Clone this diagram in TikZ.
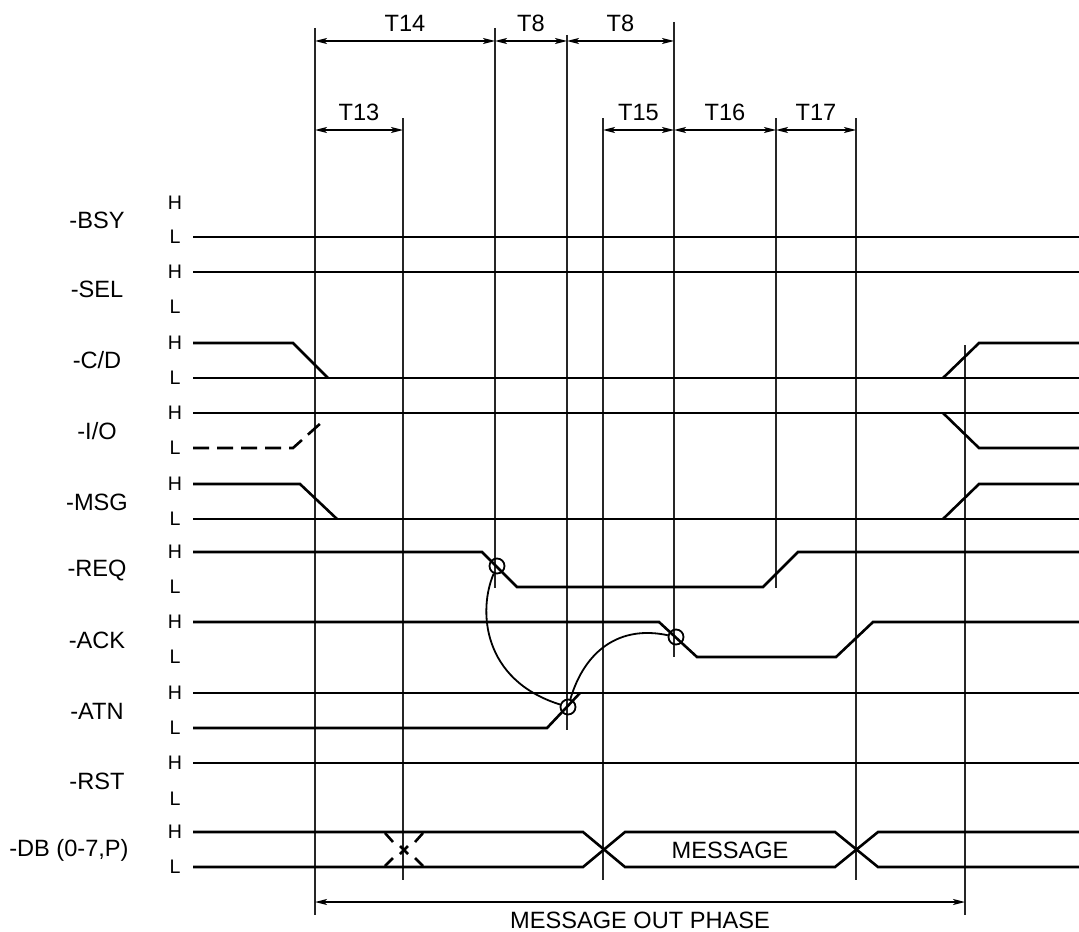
\documentclass[tikz,border=0pt]{standalone}
\usepackage{fontspec}
\setmainfont{Liberation Sans}
\usetikzlibrary{arrows.meta}
\tikzset{
  sig/.style={line width=1.3pt, black},
  guide/.style={line width=0.6pt, black!85},
  dim/.style={line width=0.7pt, >={Stealth[length=6pt,width=3pt,inset=1.5pt]}, <->},
  lvl/.style={font=\fontsize{9.8}{11}\selectfont, inner sep=0pt},
  sname/.style={font=\fontsize{11.8}{13}\selectfont, inner sep=0pt},
  tlab/.style={font=\fontsize{11.8}{13}\selectfont, inner sep=0pt},
  hs/.style={circle, draw, line width=0.9pt, minimum size=7.5pt, inner sep=0pt},
  hsarc/.style={line width=0.9pt},
}

\begin{document}
\begin{tikzpicture}[x=0.5pt, y=-0.5pt]
  \useasboundingbox (0,0) rectangle (1079,931);

  % signal names and levels
  \node[sname] (nbsy) at (97,220) {-BSY};
  \node[sname] (nsel) at (97,289) {-SEL};
  \node[sname] (ncd)  at (97,360) {-C/D};
  \node[sname] (nio)  at (97,431) {-I/O};
  \node[sname] (nmsg) at (97,502) {-MSG};
  \node[sname] (nreq) at (97,570) {-REQ};
  \node[sname] (nack) at (97,640) {-ACK};
  \node[sname] (natn) at (97,711) {-ATN};
  \node[sname] (nrst) at (97,781) {-RST};
  \node[sname, anchor=east] (ndb) at (129,850) {-DB (0-7,P)};
  \node[lvl] (h1) at (175,203) {H}; \node[lvl] (l1) at (175,237) {L};
  \node[lvl] (h2) at (175,272) {H}; \node[lvl] (l2) at (175,307) {L};
  \node[lvl] (h3) at (175,343) {H}; \node[lvl] (l3) at (175,378) {L};
  \node[lvl] (h4) at (175,413) {H}; \node[lvl] (l4) at (175,448) {L};
  \node[lvl] (h5) at (175,484) {H}; \node[lvl] (l5) at (175,519) {L};
  \node[lvl] (h6) at (175,552) {H}; \node[lvl] (l6) at (175,587) {L};
  \node[lvl] (h7) at (175,622) {H}; \node[lvl] (l7) at (175,657) {L};
  \node[lvl] (h8) at (175,693) {H}; \node[lvl] (l8) at (175,728) {L};
  \node[lvl] (h9) at (175,763) {H}; \node[lvl] (l9) at (175,799) {L};
  \node[lvl] (h10) at (175,832) {H}; \node[lvl] (l10) at (175,867) {L};

  % timing guides
  \draw[guide] (315,28) -- (315,915);
  \draw[guide] (403,118) -- (403,880);
  \draw[guide] (495,28) -- (495,588);
  \draw[guide] (567,35) -- (567,730);
  \draw[guide] (603,118) -- (603,880);
  \draw[guide] (674,22) -- (674,657);
  \draw[guide] (776,118) -- (776,588);
  \draw[guide] (856,118) -- (856,880);
  \draw[guide] (965,345) -- (965,915);

  % time intervals
  \coordinate (a0) at (315,41); \coordinate (a1) at (495,41);
  \coordinate (a2) at (567,41); \coordinate (a3) at (674,41);
  \coordinate (b0) at (315,130); \coordinate (b1) at (403,130);
  \coordinate (b2) at (603,130); \coordinate (b3) at (674,130);
  \coordinate (b4) at (776,130); \coordinate (b5) at (856,130);
  \coordinate (c0) at (315,902); \coordinate (c1) at (965,902);
  \draw[dim] (a0) -- (a1) node[tlab, midway, above=4.5pt] {T14};
  \draw[dim] (a1) -- (a2) node[tlab, midway, above=4.5pt] {T8};
  \draw[dim] (a2) -- (a3) node[tlab, midway, above=4.5pt] {T8};
  \draw[dim] (b0) -- (b1) node[tlab, midway, above=4.5pt] {T13};
  \draw[dim] (b2) -- (b3) node[tlab, midway, above=4.5pt] {T15};
  \draw[dim] (b3) -- (b4) node[tlab, midway, above=4.5pt] {T16};
  \draw[dim] (b4) -- (b5) node[tlab, midway, above=4.5pt] {T17};
  \draw[dim] (c0) -- (c1) node[tlab, midway, below=4.5pt] {MESSAGE OUT PHASE};

  % waveforms
  \draw[sig] (193,237) -- (1079,237);
  \draw[sig] (193,272) -- (1079,272);
  \draw[sig] (193,343) -- (293,343) -- (328,378);
  \draw[sig] (193,378) -- (1079,378);
  \draw[sig] (943,378) -- (979,343) -- (1079,343);
  \draw[sig] (193,413) -- (1079,413);
  \draw[sig, dashed, dash pattern=on 8pt off 4pt] (193,448) -- (293,448) -- (322,422);
  \draw[sig] (943,413) -- (979,448) -- (1079,448);
  \draw[sig] (193,484) -- (300,484) -- (337,519);
  \draw[sig] (193,519) -- (1079,519);
  \draw[sig] (943,519) -- (979,484) -- (1079,484);
  \draw[sig] (193,552) -- (482,552) -- (517,587) -- (763,587) -- (798,552) -- (1079,552);
  \draw[sig] (193,622) -- (659,622) -- (697,657) -- (836,657) -- (873,622) -- (1079,622);
  \draw[sig] (193,693) -- (1079,693);
  \draw[sig] (193,728) -- (547,728) -- (580,693);
  \draw[sig] (193,763) -- (1079,763);
  \draw[sig] (193,832) -- (583,832) -- (625,867) -- (835,867) -- (878,832) -- (1079,832);
  \draw[sig] (193,867) -- (583,867) -- (625,832) -- (835,832) -- (878,867) -- (1079,867);
  \node[tlab] (msg) at (730,850) {MESSAGE};

  % don't-care mark on data bus
  \draw[sig] (385,833) -- (393,842);
  \draw[sig] (415,842) -- (423,833);
  \draw[sig] (385,866) -- (393,858);
  \draw[sig] (415,858) -- (423,866);
  \draw[sig] (400,846) -- (408,854);
  \draw[sig] (400,854) -- (408,846);

  % handshake
  \node[hs] (rq) at (497,566) {};
  \node[hs] (ak) at (676,637) {};
  \node[hs] (at) at (568,707) {};
  \draw[hsarc] (rq) .. controls (478,610) and (482,680) .. (at);
  \draw[hsarc] (at) .. controls (585,650) and (620,625) .. (ak);
\end{tikzpicture}
\end{document}
